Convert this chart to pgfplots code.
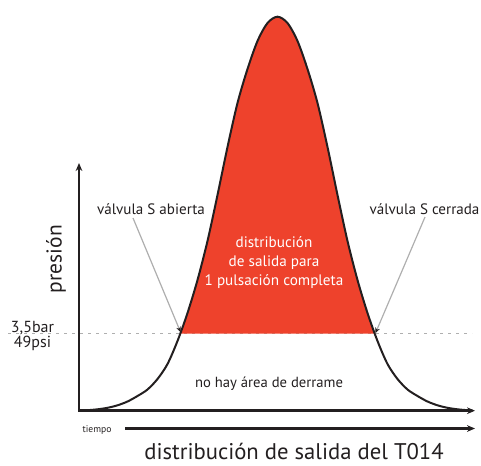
\documentclass[border=0pt]{standalone}
\usepackage{pgfplots}
\pgfplotsset{compat=1.18}
\usepackage{fontspec}
\setmainfont{PT Sans}
\usetikzlibrary{arrows.meta}
\definecolor{fillred}{RGB}{238,66,44}
\definecolor{ink}{RGB}{35,31,32}
\definecolor{pointer}{RGB}{175,175,175}
\definecolor{dotgray}{RGB}{175,175,175}
\begin{document}
\begin{tikzpicture}
\begin{axis}[
  x=0.75pt, y=0.75pt,
  xmin=0, xmax=481, ymin=0, ymax=465,
  y dir=reverse,
  axis lines=none,
  clip=false,
]
\coordinate (bl) at (axis cs:0,465);
\coordinate (tr) at (axis cs:481,0);
% threshold dotted line
\addplot[dotgray, line width=1.4pt, dash pattern=on 2.4pt off 3.6pt] coordinates {(8,333.5) (472,333.5)};
% red area above threshold
\addplot[fill=fillred, draw=none, smooth] coordinates {
(180.2,333.5) (187.5,313) (197.5,280) (207.5,241) (217.5,195) (227.5,147) (237.5,103) (247.5,69) (257.5,41) (267.5,23) (277.5,16.7)
(287.5,23) (297.5,41) (307.5,69) (317.5,103) (327.5,147) (337.5,195) (347.5,241) (357.5,280) (367.5,313) (374.8,333.5)
} -- cycle;
% bell curve
\addplot[ink, line width=1.5pt, smooth] coordinates {
(79,410.7) (87.5,410.2) (97.5,409.3) (107.5,407.8) (117.5,405.3) (127.5,401.5) (137.5,396) (147.5,389.5) (157.5,379) (167.5,364) (177.5,341)
(187.5,313) (197.5,280) (207.5,241) (217.5,195) (227.5,147) (237.5,103) (247.5,69) (257.5,41) (267.5,23) (277.5,16.7)
(287.5,23) (297.5,41) (307.5,69) (317.5,103) (327.5,147) (337.5,195) (347.5,241) (357.5,280) (367.5,313) (377.5,341)
(387.5,364) (397.5,379) (407.5,389.5) (417.5,396) (427.5,401.5) (437.5,405.3) (447.5,407.8) (457.5,409.3) (467.5,410.2) (472.5,410.5)
};
% axes
\draw[ink, line width=2pt, -{Stealth[length=6pt,width=5pt]}] (axis cs:79,411.5) -- (axis cs:79,163);
\draw[ink, line width=2pt, -{Stealth[length=6pt,width=5pt]}] (axis cs:78.3,410.7) -- (axis cs:475,410.7);
\draw[ink, line width=1.8pt, -{Stealth[length=6pt,width=5pt]}] (axis cs:125,428.5) -- (axis cs:475,428.5);
% pointers
\draw[pointer, line width=0.9pt, -{Stealth[length=4pt,width=3.5pt,color=ink]}] (axis cs:133,218) -- (axis cs:180.5,332);
\draw[pointer, line width=0.9pt, -{Stealth[length=4pt,width=3.5pt,color=ink]}] (axis cs:425,217) -- (axis cs:375.5,333);
% texts
\node[ink, anchor=base, font=\fontsize{11.3}{13}\selectfont] at (axis cs:151,214) {válvula S abierta};
\node[ink, anchor=base, font=\fontsize{11.3}{13}\selectfont] at (axis cs:424.5,214) {válvula S cerrada};
\node[white, anchor=base, font=\fontsize{11.4}{13}\selectfont] at (axis cs:274,247.3) {distribución};
\node[white, anchor=base, font=\fontsize{11.4}{13}\selectfont] at (axis cs:274,266.7) {de salida para};
\node[white, anchor=base, font=\fontsize{11.4}{13}\selectfont] at (axis cs:274,285.7) {1 pulsación completa};
\node[ink, anchor=base, font=\fontsize{11}{13}\selectfont] at (axis cs:269,387.5) {no hay área de derrame};
\node[ink, anchor=base, font=\fontsize{12}{14}\selectfont] at (axis cs:32.5,332.5) {3,5bar};
\node[ink, anchor=base, font=\fontsize{12}{14}\selectfont] at (axis cs:32.5,347.3) {49psi};
\node[ink, anchor=base, font=\fontsize{7.2}{9}\selectfont] at (axis cs:97,432) {tiempo};
\node[ink, anchor=base, font=\fontsize{17}{20}\selectfont] at (axis cs:294,459.5) {distribución de salida del T014};
\node[ink, rotate=90, anchor=center, inner sep=0pt, font=\fontsize{15}{18}\selectfont] at (axis cs:56,259) {\resizebox{51pt}{!}{presión}};
\end{axis}
\pgfresetboundingbox
\path[use as bounding box] (bl) rectangle (tr);
\end{tikzpicture}
\end{document}
